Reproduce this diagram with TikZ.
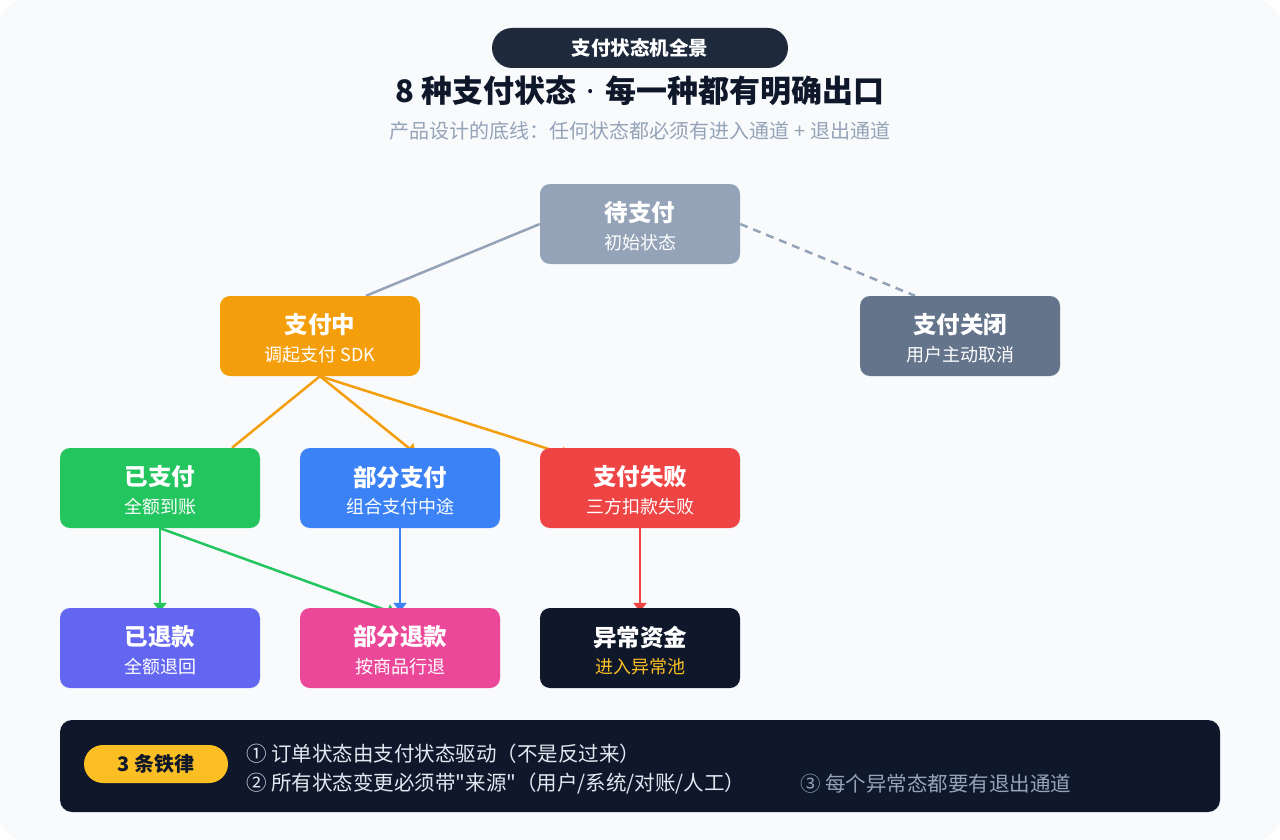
\documentclass[tikz,border=0pt]{standalone}
\usepackage{fontspec}
\setmainfont{Noto Sans CJK SC}[Ligatures=TeXOff]
\newfontfamily\latinfont{Noto Sans}
\usetikzlibrary{arrows.meta,calc}
\pgfdeclarelayer{pagebg}
\pgfdeclarelayer{edges}
\pgfsetlayers{pagebg,edges,main}
\definecolor{pagec}{HTML}{F8FAFC}
\definecolor{darkc}{HTML}{0F172A}
\definecolor{pillc}{HTML}{1E293B}
\definecolor{grayc}{HTML}{94A3B8}
\definecolor{slatec}{HTML}{64748B}
\definecolor{orangec}{HTML}{F59E0B}
\definecolor{greenc}{HTML}{22C55E}
\definecolor{bluec}{HTML}{3B82F6}
\definecolor{redc}{HTML}{EF4444}
\definecolor{indigoc}{HTML}{6366F1}
\definecolor{pinkc}{HTML}{EC4899}
\definecolor{yellowc}{HTML}{FBBF24}
\definecolor{lightc}{HTML}{E2E8F0}
\tikzset{
  statebox/.style={rectangle, rounded corners=10pt, minimum width=200pt, minimum height=80pt, inner sep=0pt},
  sttitle/.style={text=white, font=\fontsize{23.5}{27}\selectfont\bfseries, inner sep=0pt},
  stsub/.style={text=white, font=\fontsize{18}{21}\selectfont, inner sep=0pt},
  conn/.style={line width=2.5pt},
  tip/.style={-{Triangle[width=13pt,length=9pt]}},
  ruletext/.style={text=lightc, font=\fontsize{20.5}{24}\selectfont, inner sep=0pt, anchor=west},
}
\newcommand\statenode[6]{%
  \node[statebox, fill=#4] (#1) at (#2,#3) {};
  \node[sttitle] (#1-t) at ($(#1.center)+(0,-11)$) {#5};
  \node[stsub] (#1-s) at ($(#1.center)+(0,19)$) {#6};
}
\begin{document}
\begin{tikzpicture}[x=1pt,y=-1pt]
\useasboundingbox (0,0) rectangle (1280,840);
\begin{pgfonlayer}{pagebg}
  \fill[white] (0,0) rectangle (1280,840);
  \fill[pagec, rounded corners=24pt] (0,0) rectangle (1280,840);
\end{pgfonlayer}

% header
\node[fill=pillc, rounded corners=20pt, minimum width=296pt, minimum height=40pt, inner sep=0pt,
      text=white, font=\fontsize{19.5}{22}\selectfont\bfseries] (pill) at (640,48) {支付状态机全景};
\node[text=darkc, font=\fontsize{31}{35}\selectfont\bfseries, inner sep=0pt] (title) at (640,91) {8 种支付状态\hspace{10pt}{\latinfont\bfseries ·}\hspace{10pt}每一种都有明确出口};
\node[text=grayc, font=\fontsize{20}{23}\selectfont, inner sep=0pt] (subtitle) at (640,131) {产品设计的底线：任何状态都必须有进入通道 + 退出通道};

% states
\statenode{wait}{640}{224}{grayc}{待支付}{初始状态}
\statenode{ing}{320}{336}{orangec}{支付中}{调起支付 SDK}
\statenode{close}{960}{336}{slatec}{支付关闭}{用户主动取消}
\statenode{paid}{160}{488}{greenc}{已支付}{全额到账}
\statenode{part}{400}{488}{bluec}{部分支付}{组合支付中途}
\statenode{fail}{640}{488}{redc}{支付失败}{三方扣款失败}
\statenode{refund}{160}{648}{indigoc}{已退款}{全额退回}
\statenode{prefund}{400}{648}{pinkc}{部分退款}{按商品行退}
\statenode{abn}{640}{648}{darkc}{异常资金}{\color{yellowc}进入异常池}

% connectors
\begin{pgfonlayer}{edges}
  \draw[conn, grayc] (wait.west) -- ($(ing.north)+(46,0)$);
  \draw[conn, grayc, dash pattern=on 8pt off 6pt] (wait.east) -- ($(close.north)+(-45,0)$);
  \draw[conn, orangec] (ing.south) -- ($(paid.north)+(72,0)$);
  \draw[conn, orangec, tip] (ing.south) -- ($(part.north)+(16,6)$);
  \draw[conn, orangec, tip] (ing.south) -- ($(fail.north)+(-70,8)$);
  \draw[line width=2pt, greenc, tip] (paid.south) -- ($(refund.north)+(0,4)$);
  \draw[conn, greenc, tip] (paid.south) -- ($(prefund.north)+(-4,6)$);
  \draw[line width=2pt, bluec, tip] (part.south) -- ($(prefund.north)+(0,4)$);
  \draw[line width=2pt, redc, tip] (fail.south) -- ($(abn.north)+(0,4)$);
\end{pgfonlayer}

% rules bar
\node[fill=darkc, rounded corners=12pt, minimum width=1160pt, minimum height=92pt, inner sep=0pt] (bar) at (640,766) {};
\node[fill=yellowc, rounded corners=19pt, minimum width=144pt, minimum height=38pt, inner sep=0pt,
      text=darkc, font=\fontsize{20}{23}\selectfont\bfseries] (iron) at (156,764) {3 条铁律};
\node[ruletext] (r1) at (246,754) {① 订单状态由支付状态驱动（不是反过来）};
\node[ruletext] (r2) at (246,784) {② 所有状态变更必须带"来源"（用户/系统/对账/人工）};
\node[ruletext, text=grayc] (r3) at (800,784) {③ 每个异常态都要有退出通道};
\end{tikzpicture}
\end{document}
